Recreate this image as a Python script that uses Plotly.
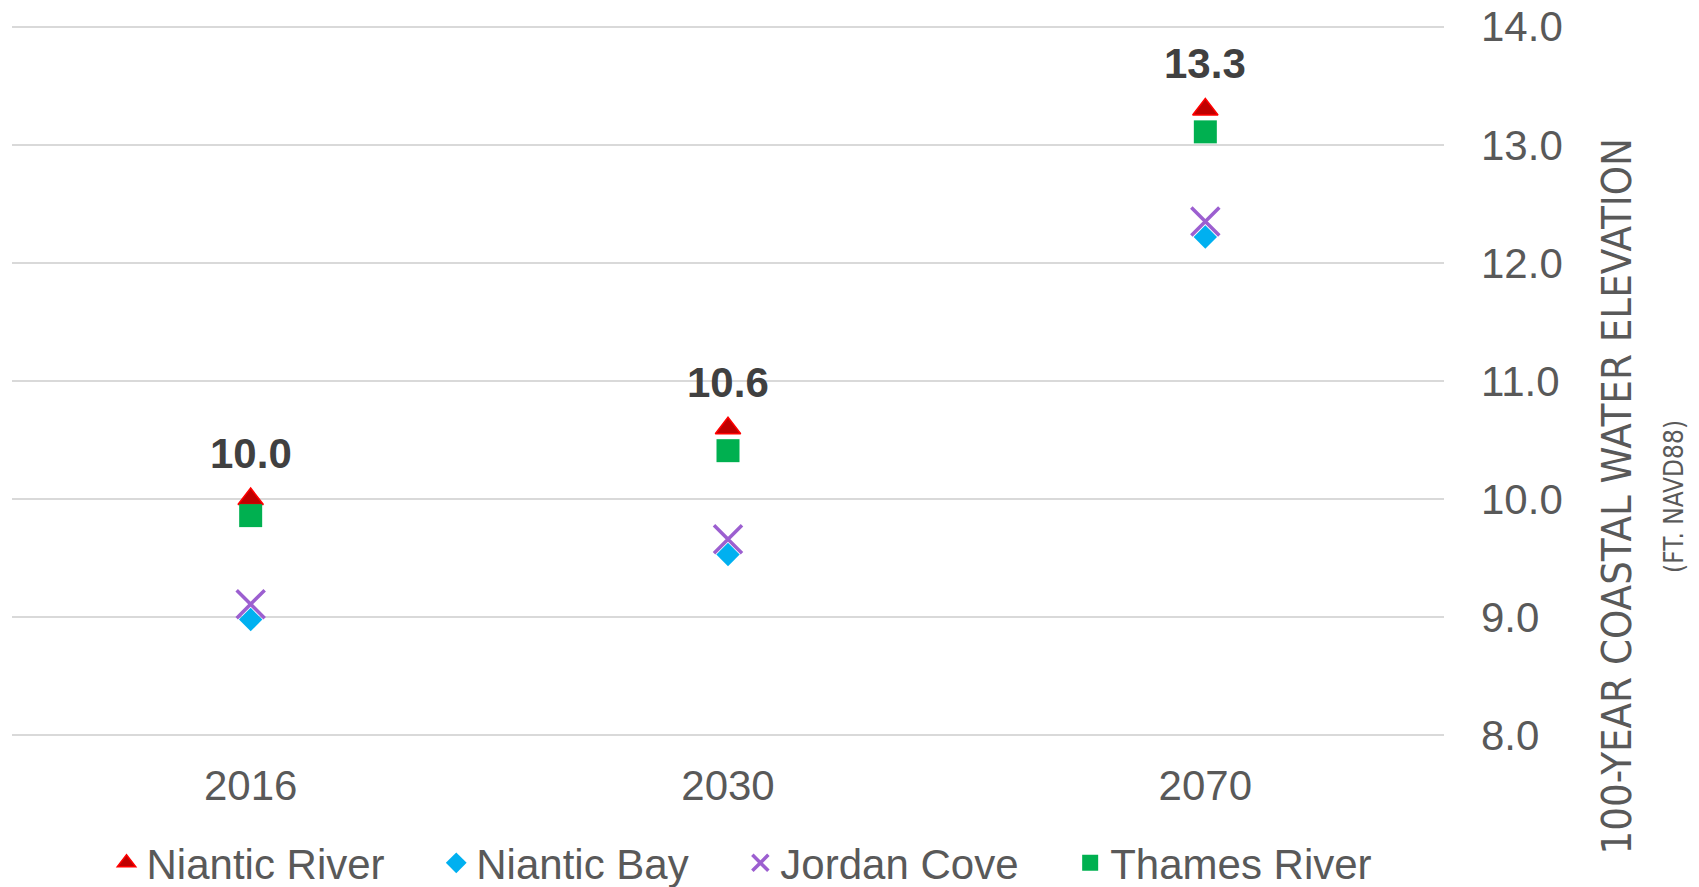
import plotly.graph_objects as go

# Scenario years (category axis)
years = ["2016", "2030", "2070"]

# 100-year coastal water elevation (ft, NAVD88) by location
niantic_river = [10.0, 10.6, 13.3]
niantic_bay = [8.98, 9.53, 12.22]
jordan_cove = [9.11, 9.66, 12.35]
thames_river = [9.86, 10.41, 13.11]

y_ticks = [8, 9, 10, 11, 12, 13, 14]

GREY = "#595959"
FONT = "Liberation Sans, Arial, sans-serif"
NARROW = "DejaVu Sans Condensed, sans-serif"
PAD = "\u00a0" * 4

fig = go.Figure()

fig.add_trace(go.Scatter(
    x=years, y=niantic_river, mode="markers", name="Niantic River" + PAD,
    marker=dict(symbol="triangle-up", size=22, color="#C00000",
                line=dict(color="#FF0000", width=1.5)),
))
fig.add_trace(go.Scatter(
    x=years, y=niantic_bay, mode="markers", name="Niantic Bay" + PAD,
    marker=dict(symbol="diamond", size=18, color="#00B0F0",
                line=dict(width=0)),
))
fig.add_trace(go.Scatter(
    x=years, y=jordan_cove, mode="markers", name="Jordan Cove" + PAD,
    marker=dict(symbol="x-thin", size=28, color="#9C5FD0",
                line=dict(color="#9C5FD0", width=3.5)),
))
fig.add_trace(go.Scatter(
    x=years, y=thames_river, mode="markers", name="Thames River",
    marker=dict(symbol="square", size=23, color="#00B050",
                line=dict(width=0)),
))

# Value labels above the Niantic River markers (category index positions)
for i, v in enumerate(niantic_river):
    fig.add_annotation(
        x=i, y=v, xref="x", yref="y", text=f"{v:.1f}", showarrow=False,
        yanchor="middle", yshift=46,
        font=dict(family=FONT, size=42, color="#404040", weight="bold"),
    )

# Axis title (rotated, right side)
fig.add_annotation(
    xref="paper", yref="paper", x=1.1203, y=0.338,
    text="100-YEAR COASTAL WATER ELEVATION", showarrow=False,
    textangle=-90, xanchor="center", yanchor="middle",
    font=dict(family=NARROW, size=41.5, color=GREY),
)
fig.add_annotation(
    xref="paper", yref="paper", x=1.161, y=0.338,
    text="(FT. NAVD88)", showarrow=False,
    textangle=-90, xanchor="center", yanchor="middle",
    font=dict(family=NARROW, size=26, color=GREY),
)

fig.update_layout(
    width=1699, height=887,
    margin=dict(l=12, r=255, t=25, b=150),
    paper_bgcolor="white", plot_bgcolor="white",
    font=dict(family=FONT, size=42, color=GREY),
    showlegend=True,
    legend=dict(
        orientation="h", x=0.066, xanchor="left",
        yref="container", y=0.027, yanchor="middle",
        font=dict(family=FONT, size=42, color=GREY),
        bgcolor="rgba(0,0,0,0)", itemclick=False,
    ),
    xaxis=dict(
        type="category", categoryorder="array", categoryarray=years,
        range=[-0.5, 2.5], showgrid=False, showline=False, zeroline=False,
        ticks="", ticklabelstandoff=20, automargin=False,
        tickfont=dict(family=FONT, size=42, color=GREY),
    ),
    yaxis=dict(
        side="right", range=[7.985, 14.015], tickvals=y_ticks,
        tickformat=".1f", showgrid=True, gridcolor="#D9D9D9", gridwidth=1.5,
        zeroline=False, showline=False, ticks="", ticklabelstandoff=36,
        automargin=False,
        tickfont=dict(family=FONT, size=42, color=GREY),
    ),
)

fig.write_html("out.html")
